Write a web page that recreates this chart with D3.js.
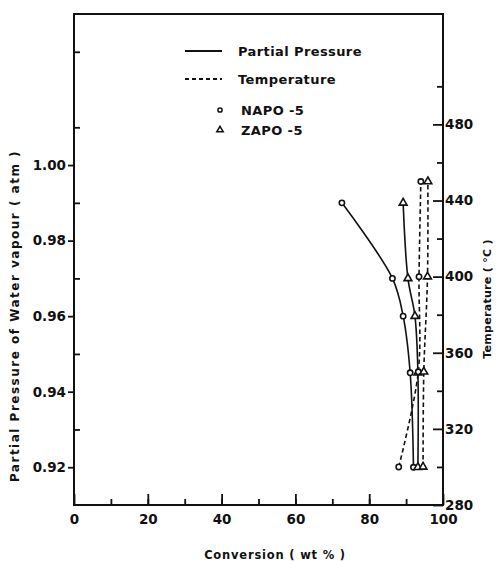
<!DOCTYPE html>
<html>
<head>
<meta charset="utf-8">
<script src="https://cdn.jsdelivr.net/npm/d3@7"></script>
<style>
  body { margin: 0; background: #fff; }
  text { font-family: "DejaVu Sans", sans-serif; font-weight: bold; fill: #111; }
</style>
</head>
<body>
<div class="chart"></div>
<script>
// data
var pressureLevels = [0.99, 0.97, 0.96, 0.945, 0.92];
var napoPressureConv = [72.6, 86.3, 89.2, 91.1, 92.0];
var zapoPressureConv = [89.2, 90.5, 92.4, 93.2, 93.2];

var tempLevels = [300, 350, 400, 450];
var napoTempConv = [88.0, 93.3, 93.5, 94.0];
var zapoTempConv = [94.6, 94.8, 95.8, 95.9];

var xTicks = [0, 20, 40, 60, 80, 100];
var pTicks = [0.92, 0.94, 0.96, 0.98, 1.00];
var tTicks = [280, 320, 360, 400, 440, 480];

var svgWidth = 504;
var svgHeight = 561;
var margin = { top: 14, right: 61, bottom: 56, left: 74 };
var width = svgWidth - margin.left - margin.right;
var height = svgHeight - margin.top - margin.bottom;

var svg = d3.select(".chart")
  .append("svg")
  .attr("width", svgWidth)
  .attr("height", svgHeight);

var chartGroup = svg.append("g")
  .attr("transform", `translate(${margin.left}, ${margin.top})`);

var x = d3.scaleLinear().domain([0, 100]).range([0, width]);
var yP = d3.scaleLinear().domain([0.91, 1.04]).range([height, 0]);
var yT = d3.scaleLinear().domain([280, 538]).range([height, 0]);

function styleAxis(g) {
  g.select(".domain").remove();
  g.selectAll("line").attr("stroke", "#111").attr("stroke-width", 1.8);
  g.selectAll("text").style("font-size", "13.5px");
}

// bottom axis: ticks point inward
chartGroup.append("g")
  .attr("transform", `translate(0, ${height})`)
  .call(d3.axisBottom(x).tickValues(d3.range(10, 100, 10)).tickSize(-6).tickFormat(""))
  .call(styleAxis);
chartGroup.append("g")
  .attr("transform", `translate(0, ${height})`)
  .call(d3.axisBottom(x).tickValues(xTicks).tickSize(-11).tickPadding(9).tickFormat(d3.format("d")))
  .call(styleAxis);

// left axis: major out, minor in
chartGroup.append("g")
  .call(d3.axisLeft(yP).tickValues([0.93, 0.95, 0.97, 0.99, 1.01, 1.03]).tickSize(-6).tickFormat(""))
  .call(styleAxis);
chartGroup.append("g")
  .call(d3.axisLeft(yP).tickValues(pTicks).tickSize(6).tickPadding(2).tickFormat(d3.format(".2f")))
  .call(styleAxis);

// right axis: ticks inward
chartGroup.append("g")
  .attr("transform", `translate(${width}, 0)`)
  .call(d3.axisRight(yT).tickValues([300, 340, 380, 420, 460, 500]).tickSize(-6).tickFormat(""))
  .call(styleAxis);
chartGroup.append("g")
  .attr("transform", `translate(${width}, 0)`)
  .call(d3.axisRight(yT).tickValues(tTicks).tickSize(-10).tickPadding(2).tickFormat(d3.format("d")))
  .call(styleAxis);

// frame
chartGroup.append("rect")
  .attr("width", width)
  .attr("height", height)
  .attr("fill", "none")
  .attr("stroke", "#111")
  .attr("stroke-width", 2);

// series
var series = [
  { conv: napoPressureConv, vals: pressureLevels, y: yP, dash: null, mark: "circle" },
  { conv: zapoPressureConv, vals: pressureLevels, y: yP, dash: null, mark: "triangle" },
  { conv: napoTempConv, vals: tempLevels, y: yT, dash: "4.5,3", mark: "circle" },
  { conv: zapoTempConv, vals: tempLevels, y: yT, dash: "4.5,3", mark: "triangle" }
];

var line = d3.line().curve(d3.curveCatmullRom.alpha(0.5));

series.forEach(function(s) {
  var pts = s.conv.map((c, i) => [x(c), s.y(s.vals[i])]);
  chartGroup.append("path")
    .attr("d", line(pts))
    .attr("fill", "none")
    .attr("stroke", "#111")
    .attr("stroke-width", 1.6)
    .attr("stroke-dasharray", s.dash);
  chartGroup.selectAll(null)
    .data(pts)
    .enter()
    .append("path")
    .attr("transform", d => `translate(${d[0]}, ${d[1]})`)
    .attr("d", d3.symbol().type(s.mark == "circle" ? d3.symbolCircle : d3.symbolTriangle).size(s.mark == "circle" ? 22 : 26))
    .attr("fill", "#fff")
    .attr("stroke", "#111")
    .attr("stroke-width", 1.6);
});

// legend
var legend = svg.append("g");
legend.append("line")
  .attr("x1", 185).attr("x2", 222).attr("y1", 51).attr("y2", 51)
  .attr("stroke", "#111").attr("stroke-width", 1.8);
legend.append("line")
  .attr("x1", 185).attr("x2", 222).attr("y1", 79).attr("y2", 79)
  .attr("stroke", "#111").attr("stroke-width", 1.8).attr("stroke-dasharray", "4,3");
legend.append("path")
  .attr("transform", "translate(220, 110)")
  .attr("d", d3.symbol().type(d3.symbolCircle).size(14))
  .attr("fill", "#fff").attr("stroke", "#111").attr("stroke-width", 1.5);
legend.append("path")
  .attr("transform", "translate(220, 130)")
  .attr("d", d3.symbol().type(d3.symbolTriangle).size(18))
  .attr("fill", "#fff").attr("stroke", "#111").attr("stroke-width", 1.5);

var legendItems = [
  { label: "Partial Pressure", x: 238, y: 51 },
  { label: "Temperature", x: 238, y: 79 },
  { label: "NAPO -5", x: 241, y: 110 },
  { label: "ZAPO -5", x: 241, y: 130 }
];
legend.selectAll("text")
  .data(legendItems)
  .enter()
  .append("text")
  .attr("x", d => d.x)
  .attr("y", d => d.y)
  .attr("dy", "0.35em")
  .style("font-size", "13px")
  .style("letter-spacing", "0.4px")
  .text(d => d.label);

// axis titles
svg.append("text")
  .attr("x", 275)
  .attr("y", 555)
  .attr("dy", "0.35em")
  .attr("text-anchor", "middle")
  .style("font-size", "11.5px")
  .style("letter-spacing", "0.8px")
  .text("Conversion ( wt % )");

svg.append("text")
  .attr("transform", "translate(15, 316) rotate(-90)")
  .attr("dy", "0.35em")
  .attr("text-anchor", "middle")
  .style("font-size", "12px")
  .style("letter-spacing", "1.5px")
  .text("Partial Pressure of Water vapour ( atm )");

svg.append("text")
  .attr("transform", "translate(487, 299) rotate(-90)")
  .attr("dy", "0.35em")
  .attr("text-anchor", "middle")
  .style("font-size", "11px")
  .style("letter-spacing", "0.3px")
  .text("Temperature ( °C )");
</script>
</body>
</html>
